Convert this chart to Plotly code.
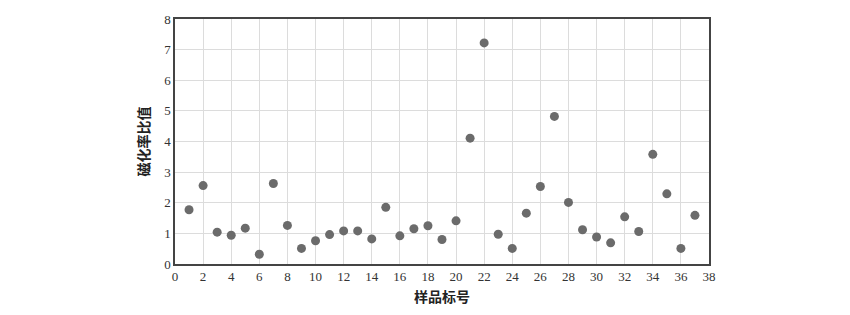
import plotly.graph_objects as go

sample_ids = list(range(1, 38))
ratio_values = [1.77, 2.56, 1.04, 0.94, 1.17, 0.32, 2.63, 1.26, 0.51, 0.76, 0.96,
                1.08, 1.08, 0.82, 1.85, 0.92, 1.15, 1.25, 0.80, 1.41, 4.11, 7.22,
                0.97, 0.51, 1.66, 2.53, 4.82, 2.01, 1.12, 0.88, 0.69, 1.54, 1.06,
                3.58, 2.29, 0.51, 1.59]
x_title = "<b>样品标号</b>"
y_title = "<b>磁化率比值</b>"

fig = go.Figure()
fig.add_trace(go.Scatter(
    x=sample_ids, y=ratio_values, mode="markers",
    marker=dict(color="#6b6b6b", size=9, line=dict(width=0)),
    showlegend=False,
))

axis_common = dict(
    showline=True, mirror=True, linecolor="#444444", linewidth=1.5,
    showgrid=True, gridcolor="#dcdcdc", gridwidth=1, zeroline=False,
    ticks="", tickfont=dict(family="Liberation Serif", size=13, color="#333"),
)
fig.update_layout(
    width=850, height=315,
    margin=dict(l=175, r=141, t=15, b=49),
    paper_bgcolor="white", plot_bgcolor="white",
    xaxis=dict(range=[0, 38], dtick=2, tick0=0,
               title=dict(text=x_title, standoff=9,
                          font=dict(family="Noto Sans CJK SC", size=14, color="#222")),
               **axis_common),
    yaxis=dict(range=[0, 8], dtick=1, tick0=0,
               title=dict(text=y_title, standoff=11,
                          font=dict(family="Noto Sans CJK SC", size=14, color="#222")),
               **axis_common),
)
fig.write_html("out.html")
